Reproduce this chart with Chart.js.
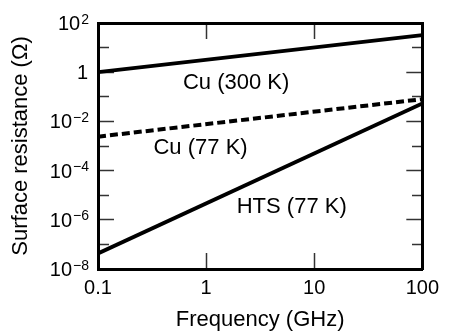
<!DOCTYPE html>
<html>
<head>
<meta charset="utf-8">
<script src="https://cdn.jsdelivr.net/npm/chart.js@4.4.1/dist/chart.umd.min.js"></script>
<style>
  html, body { margin: 0; padding: 0; background: #fff; }
</style>
</head>
<body>
<canvas id="grafica" width="462" height="334"></canvas>
<script>
// frequency (GHz) at the two ends of each straight log-log line
const freqPoints = [0.1, 100];
const cu300K = [1.0, 32];
const cu77K = [0.0024, 0.08];
const hts77K = [4.3e-8, 0.054];

const freqTicks = [0.1, 1, 10, 100];
const freqLabels = ['0.1', '1', '10', '100'];
const resTicks = [1e-8, 1e-7, 1e-6, 1e-5, 1e-4, 1e-3, 1e-2, 1e-1, 1, 10, 100];
const seriesNames = ['Cu (300 K)', 'Cu (77 K)', 'HTS (77 K)'];

// where the curve names sit, in data units (freq, resistance)
const namePos = [[0.61, 0.36], [0.326, 8.3e-4], [1.92, 3.3e-6]];

const FONT = '"Liberation Sans", Arial, Helvetica, sans-serif';
Chart.defaults.font.family = FONT;
Chart.defaults.color = '#000';

const exponent = v => Math.round(Math.log10(v));
const isMajor = v => exponent(v) % 2 === 0;
const tickColor = list => c => (c.index === 0 || c.index === list.length - 1) ? 'transparent' : '#333';
const toPoints = vals => freqPoints.map((f, i) => ({ x: f, y: vals[i] }));

const frame = { display: true, width: 3, color: '#000' };

function logAxis(position, min, max, tickList, extra) {
    return Object.assign({
        type: 'logarithmic',
        position: position,
        min: min,
        max: max,
        afterBuildTicks: s => { s.ticks = tickList.map(v => ({ value: v })); },
        ticks: { display: false },
        border: frame,
        grid: {
            drawOnChartArea: false,
            tickLength: -16,
            tickWidth: 1.5,
            tickColor: tickColor(tickList)
        }
    }, extra);
}

const labelPlugin = {
    id: 'textMarks',
    afterDraw(chart) {
        const { ctx, scales: { x, y } } = chart;
        ctx.save();
        ctx.fillStyle = '#000';

        // y tick labels: 10 with raised exponent
        const right = y.right - 9;
        resTicks.forEach(v => {
            const e = exponent(v);
            if (e % 2 !== 0) return;
            const py = y.getPixelForValue(v);
            ctx.textAlign = 'right';
            ctx.textBaseline = 'alphabetic';
            if (e === 0) {
                ctx.font = '20px ' + FONT;
                ctx.fillText('1', right - 1, py + 7);
                return;
            }
            const sup = e < 0 ? '\u2212' + Math.abs(e) : String(e);
            ctx.font = '14px ' + FONT;
            const supW = ctx.measureText(sup).width;
            ctx.fillText(sup, right, py + 0.5);
            ctx.font = '20px ' + FONT;
            ctx.fillText('10', right - supW - 1, py + 7);
        });

        // curve names
        ctx.font = '22px ' + FONT;
        ctx.textAlign = 'left';
        ctx.textBaseline = 'middle';
        seriesNames.forEach((name, i) => {
            ctx.fillText(name, x.getPixelForValue(namePos[i][0]), y.getPixelForValue(namePos[i][1]));
        });
        ctx.restore();
    }
};

const data = {
    datasets: [
        { label: seriesNames[0], data: toPoints(cu300K), borderColor: '#000', borderWidth: 3.8, showLine: true, pointRadius: 0 },
        { label: seriesNames[1], data: toPoints(cu77K), borderColor: '#000', borderWidth: 4, borderDash: [8, 4], showLine: true, pointRadius: 0 },
        { label: seriesNames[2], data: toPoints(hts77K), borderColor: '#000', borderWidth: 3.8, showLine: true, pointRadius: 0 }
    ]
};

const config = {
    type: 'scatter',
    data: data,
    options: {
        responsive: false,
        animation: false,
        layout: { padding: { top: 23, right: 19, bottom: 0, left: 0 } },
        plugins: { legend: { display: false }, tooltip: { enabled: false } },
        scales: {
            x: logAxis('bottom', 0.1, 100, freqTicks, {
                afterFit: s => { s.height = 65; },
                ticks: {
                    display: true,
                    callback: (v, i) => freqLabels[i],
                    font: { size: 20 },
                    padding: 23,
                    maxRotation: 0,
                    autoSkip: false
                },
                title: { display: true, text: 'Frequency (GHz)', font: { size: 22 }, padding: { top: 0, bottom: 1 } }
            }),
            x2: logAxis('top', 0.1, 100, freqTicks, {
                afterFit: s => { s.height = 0; }
            }),
            y: logAxis('left', 1e-8, 100, resTicks, {
                afterFit: s => { s.width = 98; },
                grid: {
                    drawOnChartArea: false,
                    tickLength: -16,
                    tickWidth: 1.5,
                    tickColor: tickColor(resTicks),
                    tickBorderDash: c => isMajor(c.tick.value) ? [] : [0, 5, 50, 0]
                },
                title: { display: true, text: 'Surface resistance (Ω)', font: { size: 22 }, padding: { top: 8, bottom: 0 } }
            }),
            y2: logAxis('right', 1e-8, 100, resTicks, {
                afterFit: s => { s.width = 0; },
                grid: {
                    drawOnChartArea: false,
                    tickLength: -16,
                    tickWidth: 1.5,
                    tickColor: tickColor(resTicks),
                    tickBorderDash: c => isMajor(c.tick.value) ? [] : [12, 100]
                }
            })
        }
    },
    plugins: [labelPlugin]
};

new Chart(document.getElementById('grafica'), config);
</script>
</body>
</html>
